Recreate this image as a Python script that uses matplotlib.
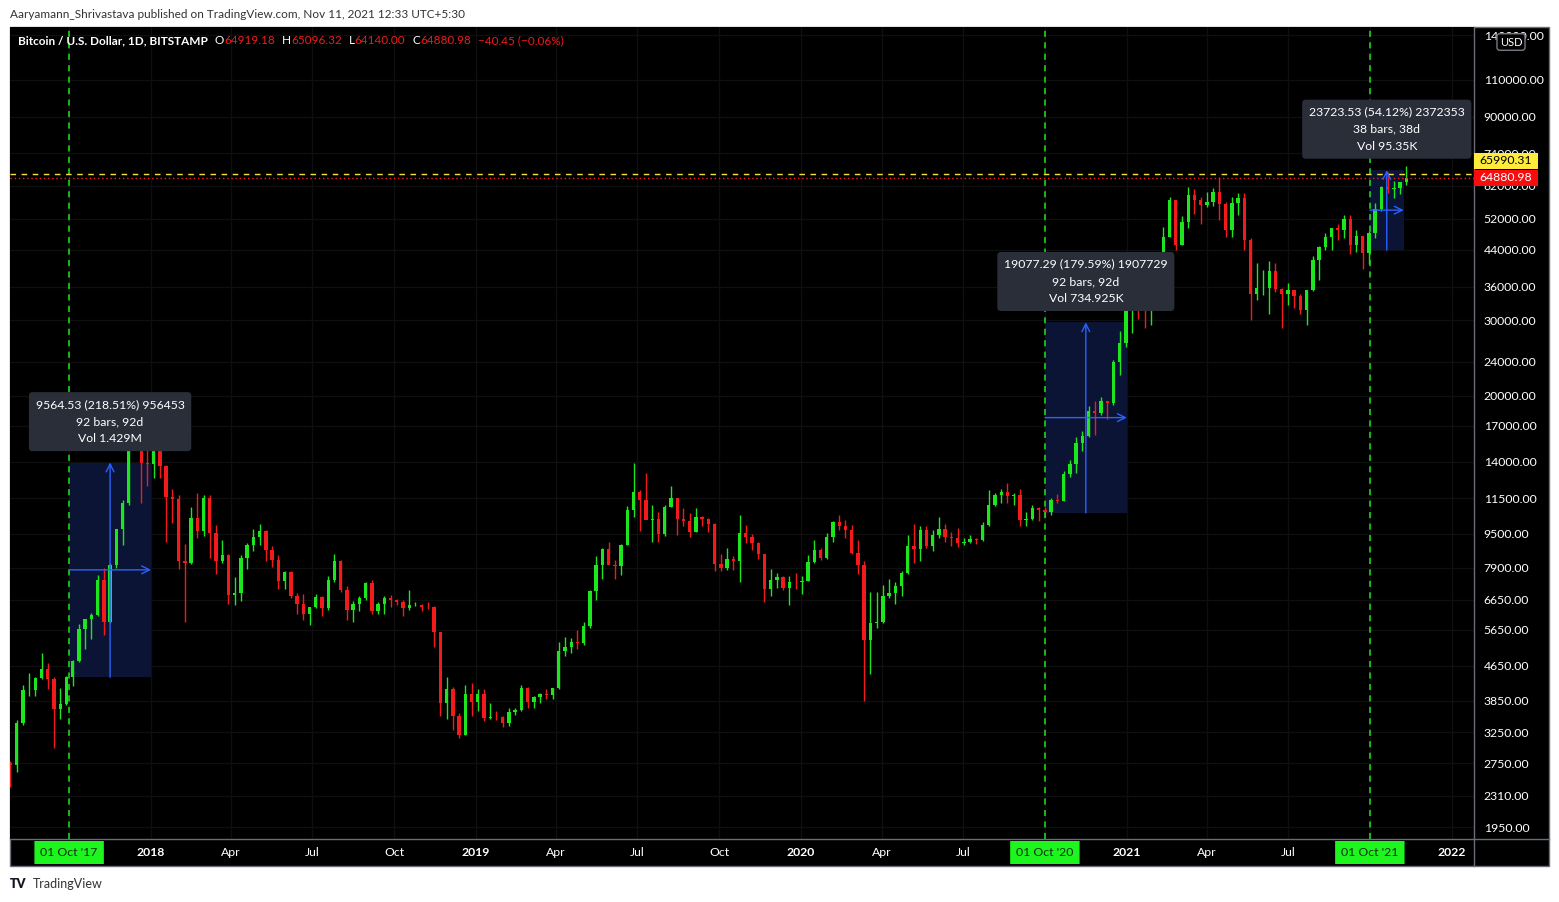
import matplotlib
matplotlib.use("Agg")
import matplotlib.pyplot as plt
import matplotlib.dates as mdates
from matplotlib.patches import Rectangle, FancyBboxPatch
from matplotlib.ticker import NullLocator
import matplotlib.transforms as mtransforms
import numpy as np
import pandas as pd

plt.rcParams['font.family'] = ['Lato', 'DejaVu Sans']

W, H = 1559, 902

# weekly candles (Bitstamp BTC/USD), weeks starting 2017-07-24
first_open = 2750
highs = [2780, 3480, 4200, 4480, 4380, 4980, 4720, 4380, 4120, 4400, 4800, 5840, 6000, 6180, 7600, 7880, 8100, 9750, 11400, 17200, 19700, 19200, 16500,
         17200, 16300, 13750, 12100, 11700, 9000, 10950, 11800, 11700, 11700, 9950, 9200, 8500, 7500, 8450, 9050, 9760, 9990, 9700, 8900, 8480, 7750, 7780, 6900, 6850, 6400, 6850, 6800, 7550, 8500, 8250, 7150, 6600, 6800, 7300, 7400, 6550, 6800, 6820, 6680, 6650, 7000, 6550, 6500, 6580, 6420, 5600, 4380, 4150, 3600, 4200, 4250, 4100,
         4100, 3800, 3650, 3550, 3700, 3700, 4200, 4150, 3950, 4020, 4100, 4140, 5300, 5450, 5400, 5650, 5900, 7000, 8400, 8800, 9080, 8250, 9000, 11000, 13880, 12000, 13200, 11100, 10650, 11100, 12300, 11500, 10900, 10600, 10900, 10450, 10350, 10050, 8500, 8800, 8400, 10500, 9950, 9500, 9100, 8500, 7850, 7700, 7550, 7550, 7700, 7550,
         8450, 9200, 8800, 9550, 10150, 10500, 10200, 9950, 9200, 8200, 6950, 6950, 7200, 7450, 7300, 7750, 9450, 10000, 9900, 9900, 9700, 10400, 10000, 9600, 9800, 9300, 9450, 9300, 10100, 12000, 11800, 12100, 12450, 11800, 12100, 10700, 11100, 10950, 10950, 11500, 11750, 13300, 14100, 16000, 16500, 18900, 19450, 19900, 19400, 24300, 28400, 34000,
         42000, 40000, 37800, 38700, 41000, 49700, 58400, 57500, 52600, 61800, 61000, 58500, 60000, 61200, 64900, 57000, 58300, 59600, 59600, 46700, 40900, 39400, 41300, 41000, 35800, 36700, 35300, 34700, 35400, 42600, 44800, 48100, 49400, 50500, 52900, 52900, 48800, 47400, 48500, 56600, 62000, 67000, 63700, 63400, 69000]
lows = [2420, 2620, 3380, 3950, 3950, 4330, 4100, 2980, 3500, 3760, 4170, 4740, 5100, 5380, 6100, 5500, 5850, 7900, 8950, 11100, 15000, 11200, 12300,
        12800, 12800, 9100, 10050, 7850, 5900, 8050, 9300, 9400, 8350, 7650, 8100, 6500, 6450, 6600, 7850, 8650, 8950, 8200, 7950, 7050, 7050, 6700, 6150, 5950, 5800, 6350, 6080, 6300, 7300, 6950, 5950, 5900, 6250, 6650, 6150, 6150, 6150, 6400, 6450, 6100, 6300, 6420, 6250, 6340, 5150, 3550, 3500, 3300, 3150, 3200, 3550, 3650,
        3450, 3500, 3480, 3350, 3370, 3560, 3650, 3700, 3700, 3800, 3900, 3900, 4100, 4900, 5000, 5100, 5200, 5700, 6650, 7450, 8100, 7450, 7600, 8950, 10400, 9650, 10400, 9100, 9100, 9400, 10950, 9450, 9900, 9350, 9600, 9900, 9600, 7750, 7750, 7800, 7800, 7300, 9050, 8700, 8300, 6550, 6800, 7100, 7000, 6450, 7050, 6870,
        7350, 8100, 8250, 8300, 9100, 9700, 9300, 8500, 7650, 3850, 4450, 5700, 5850, 6700, 6500, 6800, 7650, 8100, 8200, 8800, 8650, 9300, 9100, 8900, 8850, 8950, 9050, 9000, 9150, 9900, 11000, 11200, 11200, 11100, 9900, 9900, 10200, 10150, 10400, 10530, 11200, 11350, 12900, 13200, 14800, 16000, 16200, 18000, 17600, 19000, 22300, 26000,
        28000, 30300, 28800, 29300, 32300, 38000, 47000, 44000, 45000, 49300, 53300, 50400, 55300, 55500, 51500, 47000, 47200, 53000, 43800, 30000, 33500, 34500, 31000, 34900, 28800, 32700, 32100, 31000, 29300, 35200, 37300, 43800, 43900, 46400, 46800, 43000, 43400, 39600, 40800, 46900, 54300, 59600, 58000, 59500, 62300]
closes = [2730, 3420, 4080, 4090, 4360, 4580, 4330, 3690, 3780, 4380, 4770, 5670, 5980, 6130, 7400, 5880, 8020, 9720, 11200, 15000, 19000, 13900, 13850,
          16150, 13650, 11600, 11480, 8200, 8100, 10350, 9650, 11500, 9550, 8200, 8460, 6830, 6900, 8350, 8930, 9350, 9650, 8700, 8250, 7350, 7720, 6780, 6480, 6150, 6380, 6760, 6360, 7400, 8200, 7000, 6280, 6480, 6700, 7270, 6250, 6500, 6720, 6630, 6580, 6350, 6450, 6460, 6400, 6380, 5580, 3800, 4100, 3550, 3200, 4000, 3820, 4000,
          3520, 3540, 3530, 3420, 3630, 3670, 4120, 3820, 3930, 3990, 3980, 4120, 5050, 5150, 5300, 5250, 5760, 6980, 8000, 8750, 8030, 7970, 8950, 10800, 11900, 11400, 10200, 10300, 9500, 10950, 11500, 10300, 10150, 9600, 10400, 10300, 10000, 8050, 7870, 8300, 8200, 9550, 9350, 9050, 8500, 7050, 7400, 7500, 7080, 7330, 7300, 7350,
          8170, 8700, 8350, 9350, 10100, 9900, 9700, 8550, 8000, 5350, 5850, 5900, 6780, 6900, 7150, 7700, 8900, 8750, 9700, 8900, 9450, 9750, 9350, 9300, 9050, 9080, 9250, 9200, 9950, 11100, 11700, 11900, 11650, 11700, 10250, 10300, 10920, 10770, 10680, 11380, 11350, 13100, 13800, 15480, 16080, 18400, 18200, 19400, 19200, 24000, 26500, 33000,
          38000, 36000, 32300, 34300, 39200, 47200, 57400, 45200, 51000, 58900, 57400, 55800, 57000, 60000, 56200, 49000, 56600, 58200, 46400, 34700, 35700, 35800, 39100, 35500, 34700, 35300, 34250, 31800, 35400, 41500, 44600, 47000, 49300, 48800, 51800, 45200, 47300, 43200, 48200, 54900, 61500, 61000, 61300, 63300, 64880]
opens = [first_open] + closes[:-1]
weeks = pd.date_range('2017-07-24', periods=len(closes), freq='W-MON')

# date & price range measurements
range_start = ['2017-10-01', '2020-10-01', '2021-10-01']
range_end = ['2018-01-01', '2021-01-01', '2021-11-08']
range_low = [4377.2, 10622.7, 43835.0]
range_high = [13941.7, 29700.0, 67558.5]
range_text = ['9564.53 (218.51%) 956453\n92 bars, 92d\nVol 1.429M',
              '19077.29 (179.59%) 1907729\n92 bars, 92d\nVol 734.925K',
              '23723.53 (54.12%) 2372353\n38 bars, 38d\nVol 95.35K']

price_ticks = [1950, 2310, 2750, 3250, 3850, 4650, 5650, 6650, 7900, 9500, 11500, 14000, 17000,
               20000, 24000, 30000, 36000, 44000, 52000, 62000, 74000, 90000, 110000, 140000]
time_ticks = ['2017-10-01', '2018-01-01', '2018-04-01', '2018-07-01', '2018-10-01', '2019-01-01', '2019-04-01',
              '2019-07-01', '2019-10-01', '2020-01-01', '2020-04-01', '2020-07-01', '2020-10-01', '2021-01-01',
              '2021-04-01', '2021-07-01', '2021-10-01', '2022-01-01']
time_labels = ["01 Oct '17", '2018', 'Apr', 'Jul', 'Oct', '2019', 'Apr', 'Jul', 'Oct', '2020', 'Apr', 'Jul',
               "01 Oct '20", '2021', 'Apr', 'Jul', "01 Oct '21", '2022']
marked = ["01 Oct '17", "01 Oct '20", "01 Oct '21"]

last_close = 64880.98
high_line = 65990.31

GREEN = '#1ee61e'
RED = '#f21a1a'
BLUE = '#2962ff'


def fx(px):
    return px / W


def fy(py):
    return 1 - py / H


fig = plt.figure(figsize=(W / 100, H / 100), dpi=100, facecolor='white')

# black chart panel with frame (behind the axes)
fig.patches.append(Rectangle((fx(10), fy(866)), fx(1549) - fx(10), fy(27) - fy(866),
                             transform=fig.transFigure, facecolor='black', edgecolor='#6a6d78', lw=1, zorder=-5))

ax = fig.add_axes([fx(10), fy(839), fx(1474) - fx(10), fy(27) - fy(839)])
ax.set_zorder(1)
ax.set_facecolor('black')
ax.set_yscale('log')
ax.set_ylim(1828, 146200)
ax.set_xlim(mdates.datestr2num('2017-07-26 14:00'), mdates.datestr2num('2022-01-26'))
for s in ax.spines.values():
    s.set_visible(False)

# very faint grid
ax.set_xticks([mdates.datestr2num(d) for d in time_ticks])
ax.set_xticklabels([])
ax.tick_params(axis='x', length=0)
ax.set_yticks(price_ticks)
ax.set_yticklabels(['%.2f' % v for v in price_ticks])
ax.yaxis.set_minor_locator(NullLocator())
ax.yaxis.tick_right()
ax.tick_params(axis='y', length=0, pad=7, labelsize=8.8, labelcolor='white')
ax.grid(True, color='#0f0f0f', lw=1)
ax.set_axisbelow(True)

# measurement boxes (behind candles)
for s, e, lo, hi in zip(range_start, range_end, range_low, range_high):
    x0, x1 = mdates.datestr2num(s), mdates.datestr2num(e)
    ax.add_patch(Rectangle((x0, lo), x1 - x0, hi - lo, facecolor='#0b1434', edgecolor='none', zorder=1))

# candles
x = mdates.date2num(weeks) + 3
o = np.array(opens, float)
c = np.array(closes, float)
colors = [GREEN if cc >= oo else RED for oo, cc in zip(o, c)]
ax.vlines(x, lows, highs, colors=colors, lw=1, zorder=2)
ax.bar(x, np.maximum(np.abs(c - o), 1), bottom=np.minimum(o, c), width=3.8, color=colors, zorder=2)

# vertical dashed markers
for d in range_start:
    ax.axvline(mdates.datestr2num(d), color=GREEN, lw=1.1, ls=(0, (4, 3.5)), zorder=3)

# price lines
ax.axhline(high_line, color='#f5e13a', lw=1, ls=(0, (4, 4)), zorder=3)
ax.axhline(last_close, color='#ff1a1a', lw=1, ls=(0, (1, 2)), zorder=3)

# arrows and labels
for s, e, lo, hi, txt in zip(range_start, range_end, range_low, range_high, range_text):
    x0, x1 = mdates.datestr2num(s), mdates.datestr2num(e)
    xm = (x0 + x1) / 2
    ym = np.sqrt(lo * hi)
    ax.annotate('', xy=(xm, hi), xytext=(xm, lo),
                arrowprops=dict(arrowstyle='->', color=BLUE, lw=1, mutation_scale=14, shrinkA=0, shrinkB=0), zorder=4)
    ax.annotate('', xy=(x1, ym), xytext=(x0, ym),
                arrowprops=dict(arrowstyle='->', color=BLUE, lw=1, mutation_scale=14, shrinkA=0, shrinkB=0), zorder=4)
    ax.annotate(txt, xy=(xm, hi), xytext=(0, 13), textcoords='offset points', ha='center', va='bottom',
                color='white', fontsize=8.8, linespacing=1.7, zorder=5,
                bbox=dict(boxstyle='round,pad=0.55,rounding_size=0.3', facecolor='#2a2e39', edgecolor='none'))

# separators
fig.add_artist(plt.Line2D([fx(1474), fx(1474)], [fy(27), fy(866)], color='#6a6d78', lw=1, zorder=3))
fig.add_artist(plt.Line2D([fx(10), fx(1549)], [fy(839), fy(839)], color='#6a6d78', lw=1, zorder=3))

# time axis labels
bt = mtransforms.blended_transform_factory(ax.transData, fig.transFigure)
for d, lab in zip(time_ticks, time_labels):
    xd = mdates.datestr2num(d)
    if lab in marked:
        ax.add_patch(FancyBboxPatch((xd - 39, fy(864)), 78, fy(841) - fy(864), transform=bt,
                                    boxstyle='round,pad=0,rounding_size=0.002', facecolor='#1ef51e',
                                    edgecolor='none', clip_on=False, zorder=6))
        ax.text(xd, fy(853), lab, transform=bt, ha='center', va='center', fontsize=8.8,
                color='#103010', clip_on=False, zorder=7)
    else:
        ax.text(xd, fy(852), lab, transform=bt, ha='center', va='center', fontsize=8.8, color='white',
                weight='bold' if lab.isdigit() else 'normal', clip_on=False)

# price labels on the scale
fig.patches.append(Rectangle((fx(1474), fy(169)), fx(64), fy(153) - fy(169), transform=fig.transFigure,
                             facecolor='#ffeb3b', edgecolor='none', zorder=5))
fig.text(fx(1506), fy(161), '%.2f' % high_line, ha='center', va='center', fontsize=8.8, color='black', zorder=6)
fig.patches.append(Rectangle((fx(1474), fy(186)), fx(64), fy(170) - fy(186), transform=fig.transFigure,
                             facecolor='#f70d0d', edgecolor='none', zorder=5))
fig.text(fx(1506), fy(178), '%.2f' % last_close, ha='center', va='center', fontsize=8.8, color='white', zorder=6)

# USD badge
fig.text(fx(1511), fy(42), 'USD', ha='center', va='center', fontsize=8, color='white', zorder=6,
         bbox=dict(boxstyle='round,pad=0.25', facecolor='black', edgecolor='#787b86', lw=1))

# header texts
fig.text(fx(10), fy(14), 'Aaryamann_Shrivastava published on TradingView.com, Nov 11, 2021 12:33 UTC+5:30',
         ha='left', va='center', fontsize=8.5, color='#333333')

renderer = fig.canvas.get_renderer()
pieces = [('Bitcoin / U.S. Dollar, 1D, BITSTAMP', 'white', 7, 'bold'),
          ('O', 'white', 0, 'normal'), ('64919.18', RED, 7, 'normal'),
          ('H', 'white', 0, 'normal'), ('65096.32', RED, 7, 'normal'),
          ('L', 'white', 0, 'normal'), ('64140.00', RED, 7, 'normal'),
          ('C', 'white', 0, 'normal'), ('64880.98', RED, 7, 'normal'),
          ('\u221240.45 (\u22120.06%)', RED, 0, 'normal')]
xp = 18
for s, col, gap, wt in pieces:
    t = fig.text(fx(xp), fy(41), s, ha='left', va='center', fontsize=8.5, color=col, weight=wt, zorder=6)
    xp += t.get_window_extent(renderer=renderer).width + gap

# footer logo
fig.text(fx(10), fy(884), 'TV', ha='left', va='center', fontsize=9, color='#131722', weight='heavy')
fig.text(fx(33), fy(884), 'TradingView', ha='left', va='center', fontsize=9, color='#333333')

fig.savefig('out.png', dpi=100, facecolor='white')
